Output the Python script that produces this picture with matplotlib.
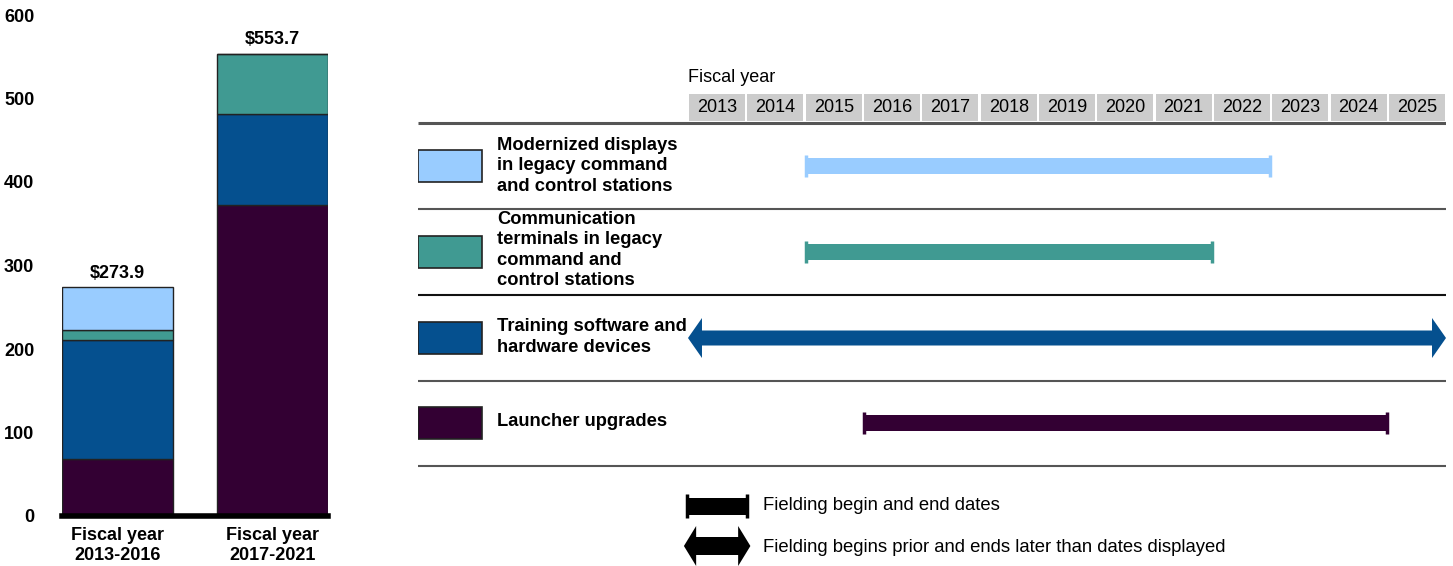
import numpy as np
import matplotlib.pyplot as plt
from matplotlib.patches import Rectangle, Polygon

plt.rcParams['font.family'] = ['Liberation Sans', 'DejaVu Sans']

# Funding by period, millions of dollars (stack order bottom -> top)
periods = ['Fiscal year\n2013-2016', 'Fiscal year\n2017-2021']
launcher = [68.0, 373.0]
training = [143.0, 108.3]
comms = [11.5, 72.4]
displays = [51.4, 0.0]
total_labels = ['$273.9', '$553.7']

# Fielding schedule: first and last fiscal year for each upgrade
items = ['Modernized displays\nin legacy command\nand control stations',
         'Communication\nterminals in legacy\ncommand and\ncontrol stations',
         'Training software and\nhardware devices',
         'Launcher upgrades']
start_year = [2015, 2015, 2013, 2016]
end_year = [2022, 2021, 2025, 2024]
open_ended = [False, False, True, False]
years = list(range(2013, 2026))

colors = ['#99CCFF', '#409A92', '#05508F', '#330033']
W, H = 1453, 566

fig = plt.figure(figsize=(W / 100, H / 100), dpi=100)

# ---- stacked bars ----
ax = fig.add_axes([62 / W, 50 / H, 266 / W, 501 / H])
x = np.arange(len(periods))
bottom = np.zeros(len(periods))
for vals, c in zip([launcher, training, comms, displays], colors[::-1]):
    ax.bar(x, vals, 0.716, bottom=bottom, color=c, edgecolor='#222222', linewidth=1)
    bottom += np.array(vals)
for xi, tot, lab in zip(x, bottom, total_labels):
    ax.annotate(lab, (xi, tot), xytext=(0, 4), textcoords='offset points',
                ha='center', va='bottom', fontsize=13, fontweight='bold')
ax.set_xlim(-0.358, 1.358)
ax.set_ylim(0, 600)
ax.set_yticks(range(0, 601, 100))
ax.set_xticks(x, periods)
for s in ['top', 'right', 'left']:
    ax.spines[s].set_visible(False)
ax.spines['bottom'].set_linewidth(4)
ax.tick_params(length=0, labelsize=13)
ax.tick_params(axis='y', pad=20)
ax.tick_params(axis='x', pad=8)
for t in ax.get_xticklabels() + ax.get_yticklabels():
    t.set_fontweight('bold')

# ---- fielding timeline (x in years, y in pixels from top) ----
px_year = 58.31
ax2 = fig.add_axes([418 / W, 0, 1028 / W, 1])
x0 = 2013 - 270 / px_year
ax2.set_xlim(x0, 2026)
ax2.set_ylim(H, 0)
ax2.axis('off')

ax2.text(2013, 78, 'Fiscal year', fontsize=13, ha='left', va='center')
for yr in years:
    ax2.add_patch(Rectangle((yr + 0.02, 94), 0.96, 27, color='#CCCCCC', lw=0))
    ax2.text(yr + 0.5, 107.5, str(yr), ha='center', va='center', fontsize=13)

ax2.hlines(123, x0, 2026, color='#555555', lw=2.2)
ax2.hlines([209, 381, 466], x0, 2026, color='#555555', lw=1.5)
ax2.hlines(295, x0, 2026, color='#111111', lw=1.5)

row_y = [166, 252, 338, 423]
text_y = [166, 250, 337, 422]

def double_arrow(ax, s, e, y, c, half=7.5, head=20, hl=0.24):
    pts = [(s, y), (s + hl, y - head), (s + hl, y - half), (e - hl, y - half),
           (e - hl, y - head), (e, y), (e - hl, y + head), (e - hl, y + half),
           (s + hl, y + half), (s + hl, y + head)]
    ax.add_patch(Polygon(pts, closed=True, color=c, lw=0))

for name, s, e, op, c, y, ty in zip(items, start_year, end_year, open_ended,
                                     colors, row_y, text_y):
    ax2.add_patch(Rectangle((x0, y - 16), 64 / px_year, 32, facecolor=c,
                            edgecolor='#222222', lw=1.2))
    ax2.text(2013 - 191 / px_year, ty, name, fontsize=13.2, fontweight='bold',
             ha='left', va='center', linespacing=1.25)
    if op:
        double_arrow(ax2, s, e + 1, y, c)
    else:
        ax2.add_patch(Rectangle((s, y - 8), e + 1 - s, 16, color=c, lw=0))
        ax2.vlines([s + 0.02, e + 1 - 0.02], y - 11, y + 11, color=c, lw=2.5)

# ---- key ----
ax2.add_patch(Rectangle((2012.97, 506 - 8.5), 1.06, 17, color='black', lw=0))
ax2.vlines([2012.99, 2014.01], 506 - 12, 506 + 12, color='black', lw=2.5)
ax2.text(2014.29, 506, 'Fielding begin and end dates', fontsize=13.3, va='center')
double_arrow(ax2, 2012.93, 2014.07, 546, 'black', half=9, head=20, hl=0.21)
ax2.text(2014.29, 547, 'Fielding begins prior and ends later than dates displayed',
         fontsize=13.3, va='center')

plt.savefig('out.png', dpi=100)
